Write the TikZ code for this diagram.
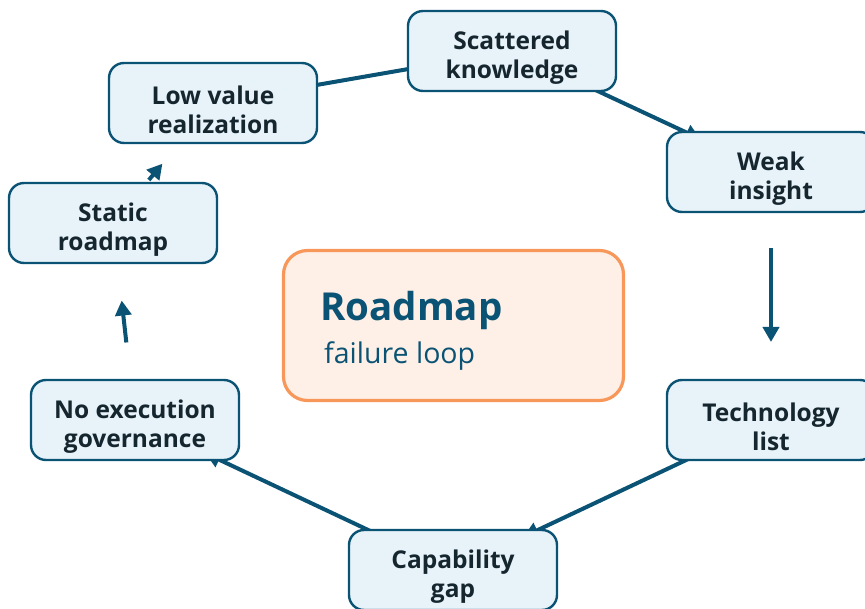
\documentclass[tikz,border=0pt]{standalone}
\usepackage{fontspec}
\setmainfont{Open Sans}
\usetikzlibrary{arrows.meta}
\definecolor{navy}{HTML}{0B5374}
\definecolor{stagefill}{HTML}{E8F3F9}
\definecolor{inktext}{HTML}{16262F}
\definecolor{coreedge}{HTML}{F7975A}
\definecolor{corefill}{HTML}{FEF0E7}
\pgfdeclarelayer{links}
\pgfsetlayers{links,main}
\tikzset{
  stage/.style={draw=navy, line width=2.4pt, fill=stagefill, rounded corners=15pt,
    minimum width=208pt, minimum height=80pt, inner sep=0pt, align=center,
    text height=61pt, text=inktext, font=\bfseries\fontsize{24.5}{29}\selectfont},
  link/.style={draw=navy, line width=4pt, -{Triangle[length=15pt,width=16pt]}},
}
\begin{document}
\begin{tikzpicture}[x=1pt,y=-1pt]
\useasboundingbox (0,0) rectangle (865,609);
% loop stages
\node[stage] (scatter) at (512,51)  {Scattered\\knowledge};
\node[stage] (weak)    at (771,172) {Weak\\insight};
\node[stage] (tech)    at (771,420) {Technology\\list};
\node[stage] (gap)     at (453,570) {Capability\\gap};
\node[stage] (nogov)   at (135,420) {No execution\\governance};
\node[stage] (static)  at (113,223) {Static\\roadmap};
\node[stage] (lowval)  at (213,103) {Low value\\realization};
% central box
\node[draw=coreedge, line width=3.2pt, fill=corefill, rounded corners=24pt,
  minimum width=340pt, minimum height=150pt, inner sep=0pt] (core) at (453.5,325.5) {};
\node[anchor=base west, inner sep=0pt, text=navy, font=\bfseries\fontsize{38.5}{42}\selectfont]
  (coretitle) at (320,321) {Roadmap};
\node[anchor=base west, inner sep=0pt, text=navy, font=\fontsize{28.5}{32}\selectfont]
  (coresub) at (324,364) {failure loop};
% connectors, drawn beneath the stages
\begin{pgfonlayer}{links}
\draw[link, shorten >=78pt] (scatter.center) -- (weak.center);
\draw[link, shorten <=76pt, shorten >=78pt] (weak.center) -- (tech.center);
\draw[link, shorten >=78pt] (tech.center) -- (gap.center);
\draw[link, shorten >=78pt] (gap.center) -- (nogov.center);
\draw[link, shorten <=78pt, shorten >=78pt] (nogov.center) -- (static.center);
\draw[link, shorten <=56pt, shorten >=79pt] (static.center) -- (lowval.center);
\draw[link, shorten >=78pt] (scatter.center) -- (lowval.center);
\end{pgfonlayer}
\end{tikzpicture}
\end{document}
